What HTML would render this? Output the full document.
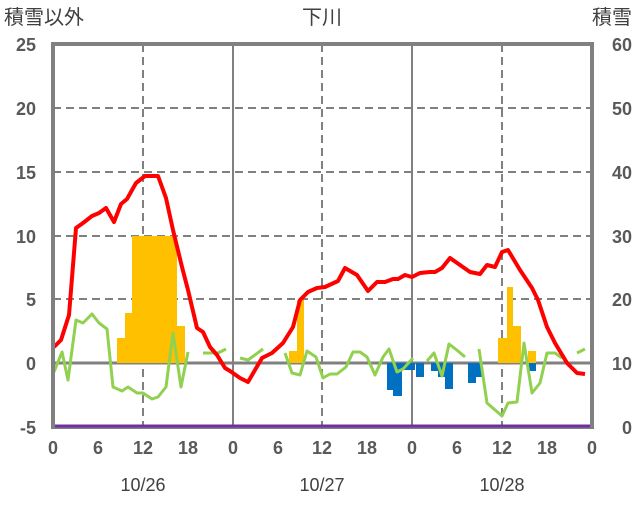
<!DOCTYPE html><html><head><meta charset="utf-8"><style>body{margin:0;background:#fff}</style></head><body>
<svg width="636" height="501" viewBox="0 0 636 501" xmlns="http://www.w3.org/2000/svg" font-family="Liberation Sans, Noto Sans CJK JP, sans-serif">
<rect width="636" height="501" fill="#fff"/>
<g stroke="#808080" stroke-width="2" stroke-dasharray="8,5">
<line x1="53" y1="108" x2="592" y2="108"/><line x1="53" y1="172" x2="592" y2="172"/><line x1="53" y1="236" x2="592" y2="236"/><line x1="53" y1="299" x2="592" y2="299"/>
<line x1="143" y1="44" x2="143" y2="427"/><line x1="322" y1="44" x2="322" y2="427"/><line x1="502" y1="44" x2="502" y2="427"/>
</g>
<g stroke="#808080" stroke-width="2"><line x1="233" y1="44" x2="233" y2="427"/><line x1="412" y1="44" x2="412" y2="427"/></g>
<line x1="53" y1="363" x2="592" y2="363" stroke="#808080" stroke-width="3"/>
<g fill="#FFC000">
<rect x="117" y="338" width="8" height="25"/><rect x="125" y="313" width="7" height="50"/><rect x="132" y="236" width="45" height="127"/><rect x="177" y="326" width="8" height="37"/>
<rect x="289" y="351" width="8" height="12"/><rect x="297" y="300" width="7" height="63"/>
<rect x="498" y="338" width="9" height="25"/><rect x="507" y="287" width="6" height="76"/><rect x="513" y="326" width="8" height="37"/><rect x="528" y="351" width="8" height="12"/>
</g>
<g fill="#0070C0">
<rect x="387" y="363" width="6" height="27"/><rect x="393" y="363" width="9" height="33"/><rect x="402" y="363" width="13" height="7"/><rect x="416" y="363" width="8" height="14"/><rect x="431" y="363" width="7" height="8"/><rect x="438" y="363" width="7" height="14"/><rect x="445" y="363" width="8" height="26"/><rect x="468" y="363" width="8" height="20"/><rect x="476" y="363" width="6" height="14"/><rect x="529" y="363" width="7" height="8"/>
</g>
<g fill="none" stroke="#92D050" stroke-width="3" stroke-linejoin="round">
<polyline points="54,372 62,352 68,380 76,320 83,323 92,314 99,323 107,329 113,387 122,391 128,387 137,393 143,393 152,399 158,397 166,387 173,333 181,387 188,352"/>
<polyline points="203,353 218,353 226,349"/>
<polyline points="240,358 248,360 263,349"/>
<polyline points="285,353 292,373 300,375 307,351 316,357 323,378 330,374 337,374 346,367 353,352 360,352 367,357 375,375 383,357 389,349 397,372 403,369 413,358"/>
<polyline points="427,361 434,353 442,376 449,344 458,351 465,357"/>
<polyline points="479,349 487,403 502,416 508,403 517,402 524,343 532,393 540,383 547,353 555,353 562,358"/>
<polyline points="577,353 585,349"/>
</g>
<polyline fill="none" stroke="#FF0000" stroke-width="4" stroke-linejoin="round" points="54,347 61,340 69,315 76,228 83,223 92,216 99,213 106,208 114,222 121,204 127,199 136,183 145,176 158,176 166,198 173,230 182,267 188,290 197,328 203,332 210,347 217,355 225,368 230,371 240,378 248,382 262,358 272,353 283,343 293,327 300,300 308,292 317,288 325,287 338,281 345,268 357,275 368,291 377,282 385,282 393,279 398,279 405,275 412,277 420,273 430,272 435,272 442,268 450,258 460,265 470,272 480,274 487,265 495,267 502,252 508,250 520,270 532,288 538,300 547,327 555,343 567,363 577,373 585,374"/>
<rect x="53" y="44" width="539" height="383" fill="none" stroke="#808080" stroke-width="4"/>
<line x1="55" y1="426" x2="590" y2="426" stroke="#7030A0" stroke-width="3"/>
<g font-size="18" font-weight="bold" fill="#595959" text-anchor="end">
<text x="36" y="51">25</text><text x="36" y="115">20</text><text x="36" y="179">15</text><text x="36" y="243">10</text><text x="36" y="306">5</text><text x="36" y="370">0</text><text x="36" y="434">-5</text>
</g>
<g font-size="18" font-weight="bold" fill="#595959" text-anchor="end">
<text x="632" y="51">60</text><text x="632" y="115">50</text><text x="632" y="179">40</text><text x="632" y="243">30</text><text x="632" y="306">20</text><text x="632" y="370">10</text><text x="632" y="434">0</text>
</g>
<g font-size="18" font-weight="bold" fill="#595959" text-anchor="middle">
<text x="53" y="454">0</text><text x="98" y="454">6</text><text x="143" y="454">12</text><text x="188" y="454">18</text><text x="233" y="454">0</text><text x="278" y="454">6</text><text x="322" y="454">12</text><text x="367" y="454">18</text><text x="412" y="454">0</text><text x="457" y="454">6</text><text x="502" y="454">12</text><text x="547" y="454">18</text><text x="592" y="454">0</text>
</g>
<g font-size="18" fill="#404040" text-anchor="middle">
<text x="143" y="491">10/26</text><text x="322" y="491">10/27</text><text x="502" y="491">10/28</text>
</g>
<g font-size="20" fill="#404040">
<text x="4" y="24">積雪以外</text><text x="322" y="24" text-anchor="middle">下川</text><text x="632" y="24" text-anchor="end">積雪</text>
</g>
</svg></body></html>
